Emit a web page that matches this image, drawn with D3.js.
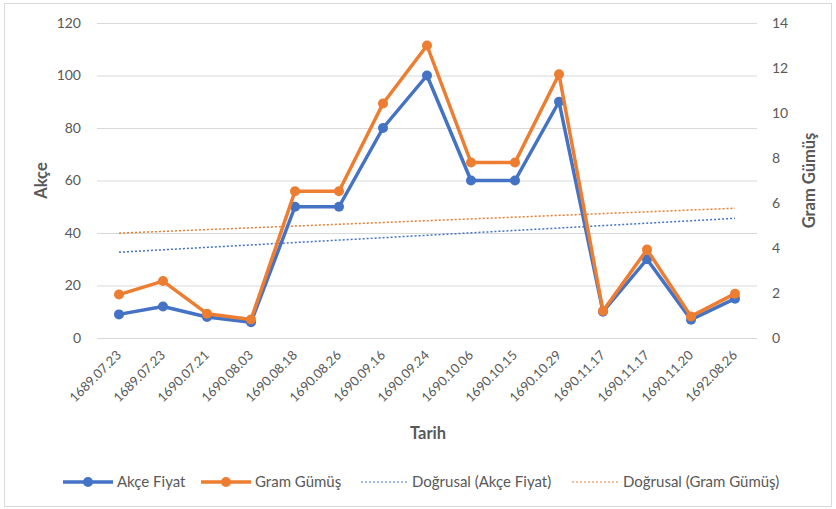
<!DOCTYPE html>
<html>
<head>
<meta charset="utf-8">
<script src="https://cdn.jsdelivr.net/npm/d3@7"></script>
<style>
  body { margin: 0; background: #fff; }
  svg { display: block; font-family: Lato, "Open Sans", sans-serif; }
</style>
</head>
<body>
<svg id="chart" width="836" height="509"></svg>
<script>
// Categories and values
const dates = ['1689.07.23', '1689.07.23', '1690.07.21', '1690.08.03', '1690.08.18', '1690.08.26',
    '1690.09.16', '1690.09.24', '1690.10.06', '1690.10.15', '1690.10.29', '1690.11.17',
    '1690.11.17', '1690.11.20', '1692.08.26'];
const akceFiyat = [9, 12, 8, 6, 50, 50, 80, 100, 60, 60, 90, 10, 30, 7, 15];
const gramGumus = [1.93, 2.53, 1.08, 0.82, 6.52, 6.52, 10.42, 13.0, 7.8, 7.8, 11.72, 1.2, 3.93, 0.96, 1.97];
const leftTicks = [0, 20, 40, 60, 80, 100, 120];
const rightTicks = [0, 2, 4, 6, 8, 10, 12, 14];
const legendLabels = ['Akçe Fiyat', 'Gram Gümüş', 'Doğrusal (Akçe Fiyat)', 'Doğrusal (Gram Gümüş)'];

const blue = '#4472C4';
const orange = '#ED7D31';
const textColour = '#595959';

const svg = d3.select('#chart');
const width = 836;
const height = 509;
const margins = { left: 97, right: 79, top: 23, bottom: 171 };
const innerWidth = width - margins.left - margins.right;
const innerHeight = height - margins.top - margins.bottom;

// Chart border
svg.append('rect')
    .attr('x', 4.5).attr('y', 3.5)
    .attr('width', width - 9).attr('height', height - 6)
    .attr('fill', 'none')
    .attr('stroke', '#d9d9d9');

// Scales (ranges in page coordinates)
const x = d3.scaleBand().domain(d3.range(dates.length)).range([margins.left, margins.left + innerWidth]);
const yLeft = d3.scaleLinear().domain([0, 120]).range([margins.top + innerHeight, margins.top]);
const yRight = d3.scaleLinear().domain([0, 14]).range([margins.top + innerHeight, margins.top]);
const cx = (i) => x(i) + x.bandwidth() / 2;

// Gridlines
const grid = svg.append('g')
    .attr('transform', `translate(${margins.left}, 0)`)
    .call(d3.axisLeft(yLeft).tickValues(leftTicks).tickSize(-innerWidth).tickFormat(''));
grid.select('.domain').remove();
grid.selectAll('.tick line').attr('stroke', '#d9d9d9').attr('stroke-width', 1);
grid.selectAll('.tick text').remove();

// Left tick labels
svg.append('g').attr('class', 'y-left-labels')
    .selectAll('text')
    .data(leftTicks)
    .enter()
    .append('text')
    .attr('x', margins.left - 16)
    .attr('y', (d) => yLeft(d))
    .attr('dy', '0.35em')
    .attr('text-anchor', 'end')
    .attr('fill', textColour)
    .style('font-size', '14px')
    .text((d) => d);

// Right tick labels
svg.append('g').attr('class', 'y-right-labels')
    .selectAll('text')
    .data(rightTicks)
    .enter()
    .append('text')
    .attr('x', margins.left + innerWidth + 15)
    .attr('y', (d) => yRight(d))
    .attr('dy', '0.35em')
    .attr('fill', textColour)
    .style('font-size', '14px')
    .text((d) => d);

// X labels, rotated
svg.append('g').attr('class', 'x-labels')
    .selectAll('text')
    .data(dates)
    .enter()
    .append('text')
    .attr('text-anchor', 'end')
    .attr('fill', textColour)
    .style('font-size', '13px')
    .attr('transform', (d, i) => `translate(${cx(i) + 3}, ${margins.top + innerHeight + 18}) rotate(-45)`)
    .text((d) => d);

// Axis titles
svg.append('text')
    .attr('transform', `translate(47, ${margins.top + innerHeight / 2}) rotate(-90)`)
    .attr('text-anchor', 'middle')
    .attr('fill', textColour)
    .style('font-size', '16.5px').style('font-weight', 'bold')
    .text('Akçe');

svg.append('text')
    .attr('transform', `translate(815, ${margins.top + innerHeight / 2}) rotate(-90)`)
    .attr('text-anchor', 'middle')
    .attr('fill', textColour)
    .style('font-size', '16.5px').style('font-weight', 'bold')
    .text('Gram Gümüş');

svg.append('text')
    .attr('x', margins.left + innerWidth / 2 + 1)
    .attr('y', 439)
    .attr('text-anchor', 'middle')
    .attr('fill', textColour)
    .style('font-size', '16.5px').style('font-weight', 'bold')
    .text('Tarih');

// Linear trend (least squares over category index 1..n, like Excel)
function trend(values) {
    const xs = values.map((d, i) => i + 1);
    const mx = d3.mean(xs);
    const my = d3.mean(values);
    const slope = d3.sum(xs, (xv, i) => (xv - mx) * (values[i] - my)) / d3.sum(xs, (xv) => (xv - mx) ** 2);
    return values.map((d, i) => my + slope * (xs[i] - mx));
}

const dataContainer = svg.append('g').attr('class', 'data-container');

const trendSeries = [
    { values: trend(akceFiyat), y: yLeft, colour: blue },
    { values: trend(gramGumus), y: yRight, colour: orange },
];

trendSeries.forEach((s) => {
    const line = d3.line().x((d, i) => cx(i)).y((d) => s.y(d));
    dataContainer.append('path')
        .attr('d', line(s.values))
        .attr('fill', 'none')
        .attr('stroke', s.colour)
        .attr('stroke-width', 1.5)
        .attr('stroke-dasharray', '2 2');
});

// Data series
const series = [
    { values: akceFiyat, y: yLeft, colour: blue },
    { values: gramGumus, y: yRight, colour: orange },
];

series.forEach((s) => {
    const line = d3.line().x((d, i) => cx(i)).y((d) => s.y(d));
    dataContainer.append('path')
        .attr('d', line(s.values))
        .attr('fill', 'none')
        .attr('stroke', s.colour)
        .attr('stroke-width', 3.5)
        .attr('stroke-linejoin', 'round');
    dataContainer.selectAll(null)
        .data(s.values)
        .enter()
        .append('circle')
        .attr('cx', (d, i) => cx(i))
        .attr('cy', (d) => s.y(d))
        .attr('r', 5)
        .attr('fill', s.colour);
});

// Legend
const legendItems = [
    { label: legendLabels[0], colour: blue, dashed: false, x0: 63 },
    { label: legendLabels[1], colour: orange, dashed: false, x0: 201 },
    { label: legendLabels[2], colour: blue, dashed: true, x0: 361 },
    { label: legendLabels[3], colour: orange, dashed: true, x0: 572 },
];
const legendY = 482;

const legend = svg.append('g').attr('class', 'legend-container');
legendItems.forEach((item) => {
    const lg = legend.append('g').attr('transform', `translate(${item.x0}, ${legendY})`);
    lg.append('line')
        .attr('x1', 0).attr('x2', item.dashed ? 47 : 50)
        .attr('y1', 0).attr('y2', 0)
        .attr('stroke', item.colour)
        .attr('stroke-width', item.dashed ? 1.2 : 3.5)
        .attr('stroke-dasharray', item.dashed ? '2 2' : null);
    if (!item.dashed) {
        lg.append('circle').attr('cx', 25).attr('cy', 0).attr('r', 5).attr('fill', item.colour);
    }
    lg.append('text')
        .attr('x', item.dashed ? 51 : 54)
        .attr('y', 5)
        .attr('fill', textColour)
        .style('font-size', '15px')
        .text(item.label);
});
</script>
</body>
</html>
